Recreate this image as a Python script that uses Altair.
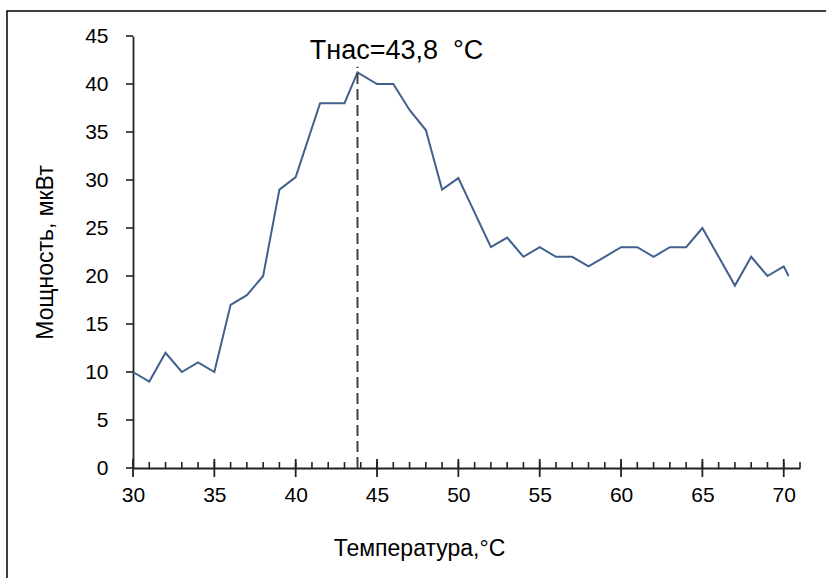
import altair as alt
import pandas as pd

# Measured temperature (°C) and power (мкВт)
temps = [30, 31, 32, 33, 34, 35, 36, 37, 38, 39, 40, 41.5, 43, 43.8, 45, 46, 47, 48, 49, 50,
         51, 52, 53, 54, 55, 56, 57, 58, 59, 60, 61, 62, 63, 64, 65, 66, 67, 68, 69, 70, 70.3]
power = [10, 9, 12, 10, 11, 10, 17, 18, 20, 29, 30.3, 38, 38, 41.2, 40, 40, 37.3, 35.2, 29, 30.2,
         26.6, 23, 24, 22, 23, 22, 22, 21, 22, 23, 23, 22, 23, 23, 25, 22, 19, 22, 20, 21, 20]

sat_temp = [43.8]
sat_top = [41.8]
sat_label = ["Тнас=43,8\u00a0 °C"]

x_major = list(range(30, 71, 5))
x_minor = list(range(30, 72))
y_ticks = list(range(0, 46, 5))

FONT = "Liberation Sans"
W, H = 667, 432
PAD_L, PAD_T = 133, 36

df = pd.DataFrame({"t": temps, "p": power})
df_sat = pd.DataFrame({"t": sat_temp, "y0": [0], "y1": sat_top, "label": sat_label})
df_xmaj = pd.DataFrame({"t": x_major})
df_xmin = pd.DataFrame({"t": x_minor})
df_ytk = pd.DataFrame({"p": y_ticks})

xscale = alt.Scale(domain=[30, 71], nice=False, zero=False)
yscale = alt.Scale(domain=[0, 45], nice=False)

frame = alt.Chart(pd.DataFrame({"a": [0]})).mark_rect(
    filled=False, fill="transparent", stroke="black", strokeWidth=1.5
).encode(
    x=alt.value(7 - PAD_L), x2=alt.value(760), y=alt.value(11 - PAD_T), y2=alt.value(600)
)

xaxis = alt.Axis(
    values=x_major, ticks=False, tickSize=0, domain=True, domainColor="#222222",
    domainWidth=1.8, grid=False, labelFont=FONT, labelFontSize=21, labelColor="black",
    labelPadding=16, labelFlush=False, title="Температура,°C", titleFont=FONT,
    titleFontSize=23, titleFontWeight="normal", titleColor="black", titleX=286, titleY=80,
    titleBaseline="middle", titleAlign="center"
)

yaxis = alt.Axis(
    values=y_ticks, ticks=False, tickSize=0, domainColor="#222222", domainWidth=1.8,
    grid=False, labelFont=FONT, labelFontSize=21, labelColor="black", labelPadding=25,
    title="Мощность, мкВт", titleFont=FONT, titleFontSize=23, titleFontWeight="normal",
    titleColor="black", titleX=-88, titleY=H / 2, titleBaseline="middle",
    titleAlign="center", titleAngle=270
)

line = alt.Chart(df).mark_line(color="#41608C", strokeWidth=2).encode(
    x=alt.X("t:Q", scale=xscale, axis=xaxis),
    y=alt.Y("p:Q", scale=yscale, axis=yaxis),
)

rule = alt.Chart(df_sat).mark_rule(color="#404040", strokeWidth=2, strokeDash=[11, 5]).encode(
    x=alt.X("t:Q", scale=xscale),
    y=alt.Y("y0:Q", scale=yscale),
    y2="y1:Q",
)

text = alt.Chart(df_sat).mark_text(
    font=FONT, fontSize=27, color="black", align="center", baseline="middle", dx=39, dy=1
).encode(
    x=alt.X("t:Q", scale=xscale),
    y=alt.value(50 - PAD_T),
    text="label:N",
)

# axis tick marks (major ticks cross the x axis, minor ticks point inward)
xmaj_ticks = alt.Chart(df_xmaj).mark_tick(
    orient="vertical", color="#222222", size=18, thickness=1.8, opacity=1
).encode(x=alt.X("t:Q", scale=xscale), y=alt.value(H))

xmin_ticks = alt.Chart(df_xmin).mark_tick(
    orient="vertical", color="#222222", size=6, thickness=1.6, opacity=1
).encode(x=alt.X("t:Q", scale=xscale), y=alt.value(H - 3))

y_tick_marks = alt.Chart(df_ytk).mark_tick(
    orient="horizontal", color="#222222", size=7, thickness=1.6, opacity=1
).encode(y=alt.Y("p:Q", scale=yscale), x=alt.value(-3.5))

chart = alt.layer(
    frame, line, rule, text, xmaj_ticks, xmin_ticks, y_tick_marks
).properties(
    width=W, height=H, background="white",
    autosize=alt.AutoSizeParams(type="none"),
    padding={"left": PAD_L, "top": PAD_T, "right": 826 - PAD_L - W, "bottom": 578 - PAD_T - H},
).configure_view(stroke=None)

chart.save("out.html", embed_options={"renderer": "svg", "actions": False})
